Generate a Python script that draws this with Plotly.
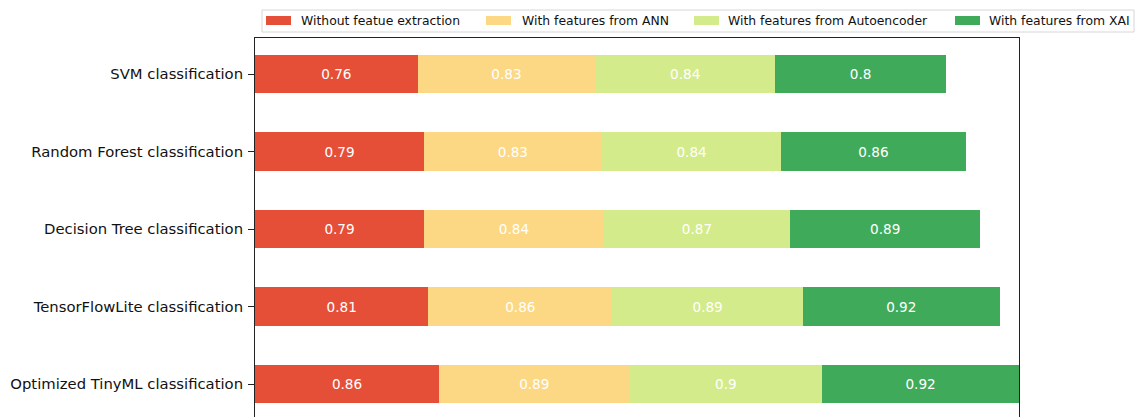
import plotly.graph_objects as go

# Classifier accuracy under different feature-extraction strategies
models = [
    "SVM classification",
    "Random Forest classification",
    "Decision Tree classification",
    "TensorFlowLite classification",
    "Optimized TinyML classification",
]
without_fe = [0.76, 0.79, 0.79, 0.81, 0.86]
ann_features = [0.83, 0.83, 0.84, 0.86, 0.89]
autoencoder_features = [0.84, 0.84, 0.87, 0.89, 0.9]
xai_features = [0.8, 0.86, 0.89, 0.92, 0.92]

series_names = [
    "Without featue extraction",
    "With features from ANN",
    "With features from Autoencoder",
    "With features from XAI",
]
series_values = [without_fe, ann_features, autoencoder_features, xai_features]
colors = ["#E64F37", "#FDD884", "#D3EB8B", "#40AA5B"]

W, H = 1135, 417
L, R, T = 255, 1019, 38
font_family = "DejaVu Sans, Arial, sans-serif"

positions = list(range(len(models)))
totals = [sum(v) for v in zip(*series_values)]

fig = go.Figure()
for name, vals, col in zip(series_names, series_values, colors):
    fig.add_trace(go.Bar(
        y=positions,
        x=vals,
        orientation="h",
        name=name,
        width=0.5,
        marker=dict(color=col, line=dict(width=0)),
        text=[str(v) for v in vals],
        textposition="inside",
        insidetextanchor="middle",
        textangle=0,
        textfont=dict(color="white", size=13.6, family=font_family),
        showlegend=False,
    ))

# legend drawn as a framed box with patches and labels (pixel layout)
def px_x(px):
    return (px - L) / (R - L)

def px_y(py):
    return (H - py) / (H - T)

shapes = []
annotations = []
box_l, box_r, box_t, box_b = 262, 1134, 10, 32
shapes.append(dict(
    type="rect", xref="paper", yref="paper",
    x0=px_x(box_l), x1=px_x(box_r), y0=px_y(box_b), y1=px_y(box_t),
    line=dict(color="#D6D6D6", width=1), fillcolor="rgba(255,255,255,0.8)",
    layer="above",
))
patch_x = [266, 486, 694, 955]
text_x = [298.5, 519.5, 726, 987.3]
for name, col, px0, tx in zip(series_names, colors, patch_x, text_x):
    shapes.append(dict(
        type="rect", xref="paper", yref="paper",
        x0=px_x(px0), x1=px_x(px0 + 25), y0=px_y(25), y1=px_y(16),
        line=dict(width=0), fillcolor=col, layer="above",
    ))
    annotations.append(dict(
        xref="paper", yref="paper", x=px_x(tx), y=px_y(20.5),
        xanchor="left", yanchor="middle", text=name, showarrow=False,
        font=dict(size=12.4, color="#111111", family=font_family),
    ))

units_per_px = 1 / 77.5
y_top = -0.465
y_bottom = y_top + (H - T) * units_per_px

fig.update_layout(
    width=W, height=H,
    margin=dict(l=L, r=W - R, t=T, b=0, pad=0),
    barmode="stack",
    template="none",
    paper_bgcolor="white",
    plot_bgcolor="white",
    font=dict(family=font_family, color="#111111"),
    shapes=shapes,
    annotations=annotations,
    showlegend=False,
    xaxis=dict(
        range=[0, max(totals)],
        side="top",
        showline=True, linecolor="#222222", linewidth=1,
        showgrid=False, zeroline=False,
        showticklabels=False, ticks="",
        fixedrange=True,
    ),
    yaxis=dict(
        range=[y_bottom, y_top],
        tickmode="array", tickvals=positions, ticktext=models,
        showline=True, mirror=True, linecolor="#222222", linewidth=1,
        ticks="outside", ticklen=6, tickwidth=1, tickcolor="#222222",
        ticklabelstandoff=2,
        tickfont=dict(size=14.8, color="#111111", family=font_family),
        showgrid=False, zeroline=False,
        fixedrange=True,
    ),
)

fig.write_html("out.html")
